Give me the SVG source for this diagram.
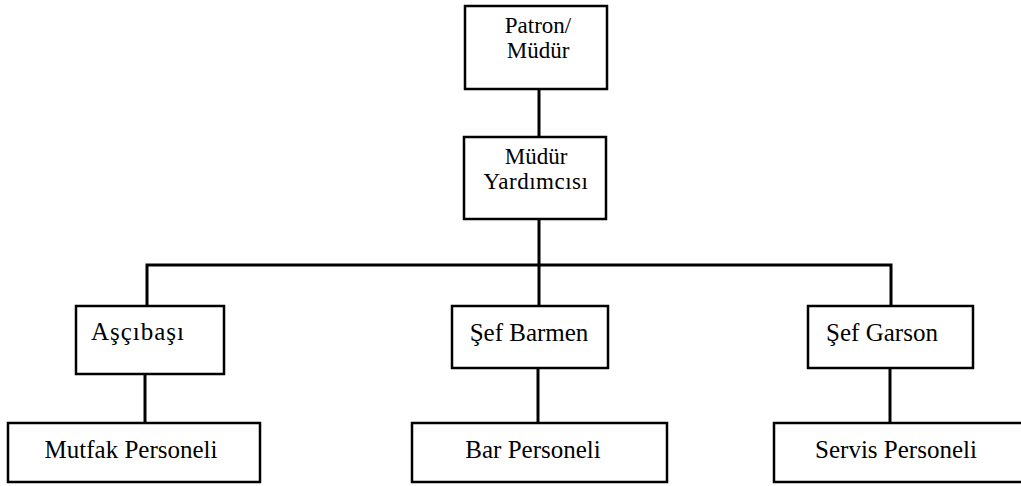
<svg xmlns="http://www.w3.org/2000/svg" width="1021" height="486" viewBox="0 0 1021 486">
  <style>
    .box { fill: #ffffff; stroke: #000000; stroke-width: 2.5; }
    .lbl { font-family: "Liberation Serif", "Times New Roman", serif; font-size: 25px; fill: #000000; text-anchor: middle; }
    .lbl2 { font-family: "Liberation Serif", "Times New Roman", serif; font-size: 23px; fill: #000000; text-anchor: middle; }
    .link { fill: none; stroke: #000000; stroke-width: 3; }
  </style>
  <rect width="1021" height="486" fill="#ffffff"/>

  <!-- connectors -->
  <g id="connectors">
    <path class="link" d="M539 89 V137"/>
    <path class="link" d="M539 219 V306"/>
    <path class="link" d="M147 306 V265 H891 V306"/>
    <path class="link" d="M145 374 V423"/>
    <path class="link" d="M538 368 V423"/>
    <path class="link" d="M890 368 V423"/>
  </g>

  <g id="patron">
    <rect class="box" x="465" y="6" width="142" height="83"/>
    <text class="lbl2" x="538" y="33">Patron/</text>
    <text class="lbl2" x="538" y="58">Müdür</text>
  </g>

  <g id="mudur-yardimcisi">
    <rect class="box" x="464" y="137" width="142" height="82"/>
    <text class="lbl2" x="536" y="164">Müdür</text>
    <text class="lbl2" x="536" y="189" letter-spacing="0.5">Yardımcısı</text>
  </g>

  <g id="ascibasi">
    <rect class="box" x="76" y="306" width="148" height="68"/>
    <text class="lbl" x="138" y="340" letter-spacing="1">Aşçıbaşı</text>
  </g>

  <g id="sef-barmen">
    <rect class="box" x="452" y="306" width="156" height="62"/>
    <text class="lbl" x="529" y="341">Şef Barmen</text>
  </g>

  <g id="sef-garson">
    <rect class="box" x="808" y="306" width="165" height="62"/>
    <text class="lbl" x="882" y="341">Şef Garson</text>
  </g>

  <g id="mutfak-personeli">
    <rect class="box" x="8" y="423" width="252" height="59"/>
    <text class="lbl" x="131" y="458">Mutfak Personeli</text>
  </g>

  <g id="bar-personeli">
    <rect class="box" x="412" y="423" width="255" height="59"/>
    <text class="lbl" x="533" y="458">Bar Personeli</text>
  </g>

  <g id="servis-personeli">
    <rect class="box" x="774" y="423" width="260" height="59"/>
    <text class="lbl" x="896" y="458">Servis Personeli</text>
  </g>
</svg>
